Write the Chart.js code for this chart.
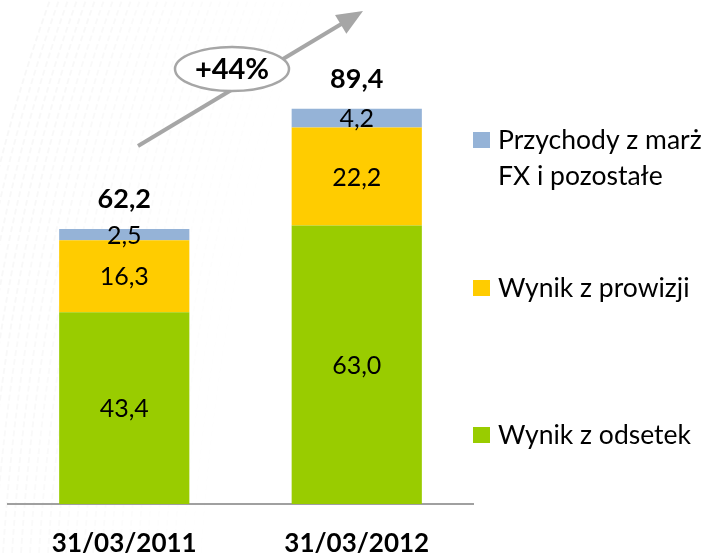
<!DOCTYPE html>
<html>
<head>
<meta charset="utf-8">
<script src="https://cdn.jsdelivr.net/npm/chart.js@4"></script>
<style>
  body { margin: 0; background: #fff; }
  #wrap { width: 701px; height: 553px; }
</style>
</head>
<body>
<div id="wrap"><canvas id="chartDochody" width="701" height="553"></canvas></div>
<script>
const KATEGORIE = ['31/03/2011', '31/03/2012'];
const WYNIK_ODSETKI = [43.4, 63.0];
const WYNIK_PROWIZJE = [16.3, 22.2];
const PRZYCHODY_FX = [2.5, 4.2];
const ZMIANA = '+44%';

const fmt = v => v.toFixed(1).replace('.', ',');
const FONT = 'Lato, "Open Sans", sans-serif';

// tlo z delikatna faktura po lewej stronie
const tloPlugin = {
  id: 'tlo',
  beforeDraw: chart => {
    const ctx = chart.ctx;
    ctx.save();
    ctx.fillStyle = '#fff';
    ctx.fillRect(0, 0, chart.width, chart.height);
    ctx.lineWidth = 2;
    for (let i = 0; i < 30; i++) {
      const x0 = -60 + i * 9;
      ctx.strokeStyle = 'rgba(0,0,0,' + (0.03 - i * 0.0009) + ')';
      ctx.setLineDash([6, 3]);
      ctx.beginPath();
      ctx.moveTo(x0, 553);
      ctx.quadraticCurveTo(x0 + 20, 250, x0 + 110, 0);
      ctx.stroke();
    }
    ctx.restore();
  }
};

// etykiety wartosci, sumy, legenda i strzalka
const etykietyPlugin = {
  id: 'etykiety',
  afterDatasetsDraw: chart => {
    const ctx = chart.ctx;
    const yScale = chart.scales.y;
    ctx.save();
    ctx.textAlign = 'center';
    ctx.textBaseline = 'middle';
    ctx.fillStyle = '#000';
    ctx.font = '25px ' + FONT;
    chart.data.datasets.forEach((ds, i) => {
      chart.getDatasetMeta(i).data.forEach((el, j) => {
        ctx.fillText(fmt(ds.data[j]), el.x, (el.y + el.base) / 2 + 1);
      });
    });

    ctx.font = 'bold 27px ' + FONT;
    KATEGORIE.forEach((k, j) => {
      let suma = 0;
      chart.data.datasets.forEach(ds => { suma += ds.data[j]; });
      const x = chart.getDatasetMeta(0).data[j].x;
      ctx.fillText(fmt(suma), x, yScale.getPixelForValue(suma) - 30);
    });

    // legenda
    const legY = [140, 288, 435];
    const kolejnosc = chart.data.datasets.slice().reverse();
    ctx.textAlign = 'left';
    ctx.font = '26.5px ' + FONT;
    kolejnosc.forEach((ds, i) => {
      ctx.fillStyle = ds.backgroundColor;
      ctx.fillRect(473, legY[i] - 8, 17, 16);
      ctx.fillStyle = '#000';
      const linie = ds.label.split('\n');
      linie.forEach((l, n) => {
        ctx.fillText(l, 498, legY[i] + n * 36);
      });
    });

    // strzalka
    const x1 = 138, y1 = 146, x2 = 363, y2 = 11;
    const ang = Math.atan2(y2 - y1, x2 - x1);
    ctx.strokeStyle = '#a6a6a6';
    ctx.fillStyle = '#a6a6a6';
    ctx.lineWidth = 4;
    ctx.beginPath();
    ctx.moveTo(x1, y1);
    ctx.lineTo(x2 - 18 * Math.cos(ang), y2 - 18 * Math.sin(ang));
    ctx.stroke();
    ctx.beginPath();
    ctx.moveTo(x2, y2);
    ctx.lineTo(x2 - 26 * Math.cos(ang) + 11 * Math.sin(ang), y2 - 26 * Math.sin(ang) - 11 * Math.cos(ang));
    ctx.lineTo(x2 - 26 * Math.cos(ang) - 11 * Math.sin(ang), y2 - 26 * Math.sin(ang) + 11 * Math.cos(ang));
    ctx.closePath();
    ctx.fill();

    ctx.beginPath();
    ctx.ellipse(232, 69, 57, 22, 0, 0, Math.PI * 2);
    ctx.fillStyle = '#fff';
    ctx.fill();
    ctx.lineWidth = 2.5;
    ctx.stroke();
    ctx.fillStyle = '#000';
    ctx.textAlign = 'center';
    ctx.font = 'bold 29px ' + FONT;
    ctx.fillText(ZMIANA, 232, 70);
    ctx.restore();
  }
};

new Chart(document.getElementById('chartDochody'), {
  type: 'bar',
  data: {
    labels: KATEGORIE,
    datasets: [
      {
        label: 'Wynik z odsetek',
        data: WYNIK_ODSETKI,
        backgroundColor: '#99cc00',
      },
      {
        label: 'Wynik z prowizji',
        data: WYNIK_PROWIZJE,
        backgroundColor: '#ffcc00',
      },
      {
        label: 'Przychody z marż\nFX i pozostałe',
        data: PRZYCHODY_FX,
        backgroundColor: '#95b3d7',
      },
    ],
  },
  options: {
    responsive: false,
    animation: false,
    layout: { padding: { top: 62, left: 8, right: 228, bottom: 0 } },
    datasets: {
      bar: { barPercentage: 0.56, categoryPercentage: 1 },
    },
    plugins: {
      legend: { display: false },
      tooltip: { enabled: false },
    },
    scales: {
      x: {
        stacked: true,
        grid: { display: false, drawTicks: false },
        border: { display: true, color: '#a0a0a0', width: 2 },
        ticks: {
          color: '#000',
          padding: 24,
          font: { family: FONT, size: 26, weight: 'bold' },
        },
        afterFit: scale => { scale.height = 49; },
      },
      y: {
        stacked: true,
        display: false,
        min: 0,
        max: 100,
      },
    },
  },
  plugins: [tloPlugin, etykietyPlugin],
});
</script>
</body>
</html>
